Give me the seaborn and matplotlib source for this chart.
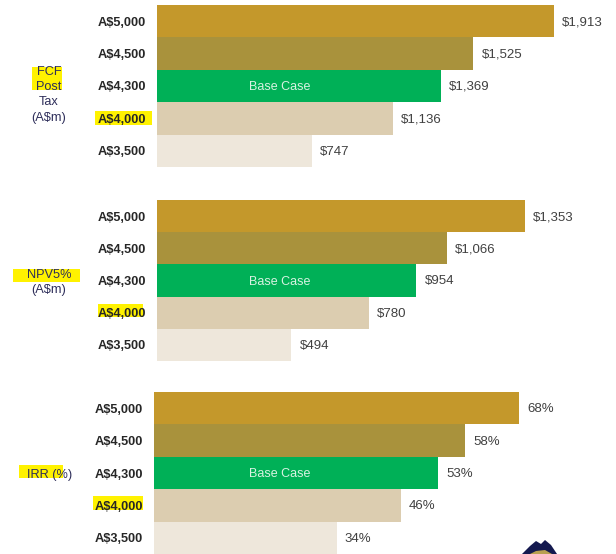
import matplotlib
matplotlib.use('Agg')
import matplotlib.pyplot as plt
from matplotlib.patches import Polygon, Rectangle
import seaborn as sns

sns.set_theme(style="white")
plt.rcParams['font.family'] = ['Liberation Sans', 'DejaVu Sans']

W, H = 616, 554

# Data
prices = ['A$5,000', 'A$4,500', 'A$4,300', 'A$4,000', 'A$3,500']
fcf = [1913, 1525, 1369, 1136, 747]
npv = [1353, 1066, 954, 780, 494]
irr = [68, 58, 53, 46, 34]
fcf_labels = ['$1,913', '$1,525', '$1,369', '$1,136', '$747']
npv_labels = ['$1,353', '$1,066', '$954', '$780', '$494']
irr_labels = ['68%', '58%', '53%', '46%', '34%']
bar_colors = ['#C4982B', '#A9923C', '#00B057', '#DCCDB0', '#EEE7DB']

YELLOW = '#FFF200'
NAVY = '#2E2E5A'


def make_panel(left, top, width, height, values, labels, base_x):
    ax = fig.add_axes([left / W, 1 - (top + height) / H, width / W, height / H])
    sns.barplot(x=values, y=prices, hue=prices, palette=bar_colors, dodge=False,
                width=1.0, legend=False, ax=ax, saturation=1, orient='h', linewidth=0)
    ax.set_xlim(0, max(values))
    ax.set_ylim(4.5, -0.5)
    ax.set_xticks([])
    ax.set_xlabel('')
    ax.set_ylabel('')
    ax.patch.set_alpha(0)
    sns.despine(ax=ax, left=True, bottom=True)
    ax.tick_params(axis='y', length=0, pad=8)
    for lab in ax.get_yticklabels():
        lab.set_fontsize(9.2)
        lab.set_fontweight('bold')
        lab.set_color('#262626')
    for i, val in enumerate(values):
        ax.annotate(labels[i], (val, i), xytext=(5.8, -0.7), textcoords='offset points',
                    va='center', ha='left', fontsize=9.5, color='#404040', clip_on=False)
    ax.annotate('Base Case', (base_x, 2), xycoords=('figure pixels', 'data'),
                xytext=(0, -0.9), textcoords='offset points',
                ha='center', va='center', fontsize=9, color='#D8F2E2')
    return ax


def side_label(x, y, text):
    fig.text(x / W, 1 - y / H, text, ha='center', va='center', fontsize=9.2, color=NAVY)


# yellow marker strokes sit behind the axes, so the tick labels stay on top
def highlight(x0, y0, x1, y1):
    fig.patches.append(Rectangle((x0 / W, 1 - y1 / H), (x1 - x0) / W, (y1 - y0) / H,
                                 facecolor=YELLOW, edgecolor='none', zorder=-1,
                                 transform=fig.transFigure))


fig = plt.figure(figsize=(W / 100, H / 100), dpi=100)

highlight(95, 111, 152, 125)
highlight(98, 304, 143, 317)
highlight(93, 496, 143, 510)
highlight(32, 67, 62, 90)
highlight(13, 269, 80, 282)
highlight(19, 465, 63, 478)

make_panel(157, 5, 397, 162, fcf, fcf_labels, 280)
make_panel(157, 200, 368, 161, npv, npv_labels, 280)
make_panel(154, 392, 365, 162, irr, irr_labels, 280)

side_label(49, 72, 'FCF')
side_label(49, 87, 'Post')
side_label(49, 102, 'Tax')
side_label(49, 118, '(A$m)')
side_label(49, 275, 'NPV5%')
side_label(49, 290, '(A$m)')
side_label(49.5, 475, 'IRR (%)')


# Logo fragment cut off at the bottom edge
def px(points):
    return [(x / W, 1 - y / H) for x, y in points]


fig.patches.append(Polygon(px([(522, 554), (530, 546), (536, 541), (541, 544), (545, 540),
                               (551, 545), (557, 554)]),
                           closed=True, facecolor='#14194F', edgecolor='none',
                           transform=fig.transFigure))
fig.patches.append(Polygon(px([(530, 554), (536, 551), (545, 550), (552, 554)]),
                           closed=True, facecolor='#B9A050', edgecolor='none',
                           transform=fig.transFigure))

fig.savefig('out.png', dpi=100)
plt.close(fig)
